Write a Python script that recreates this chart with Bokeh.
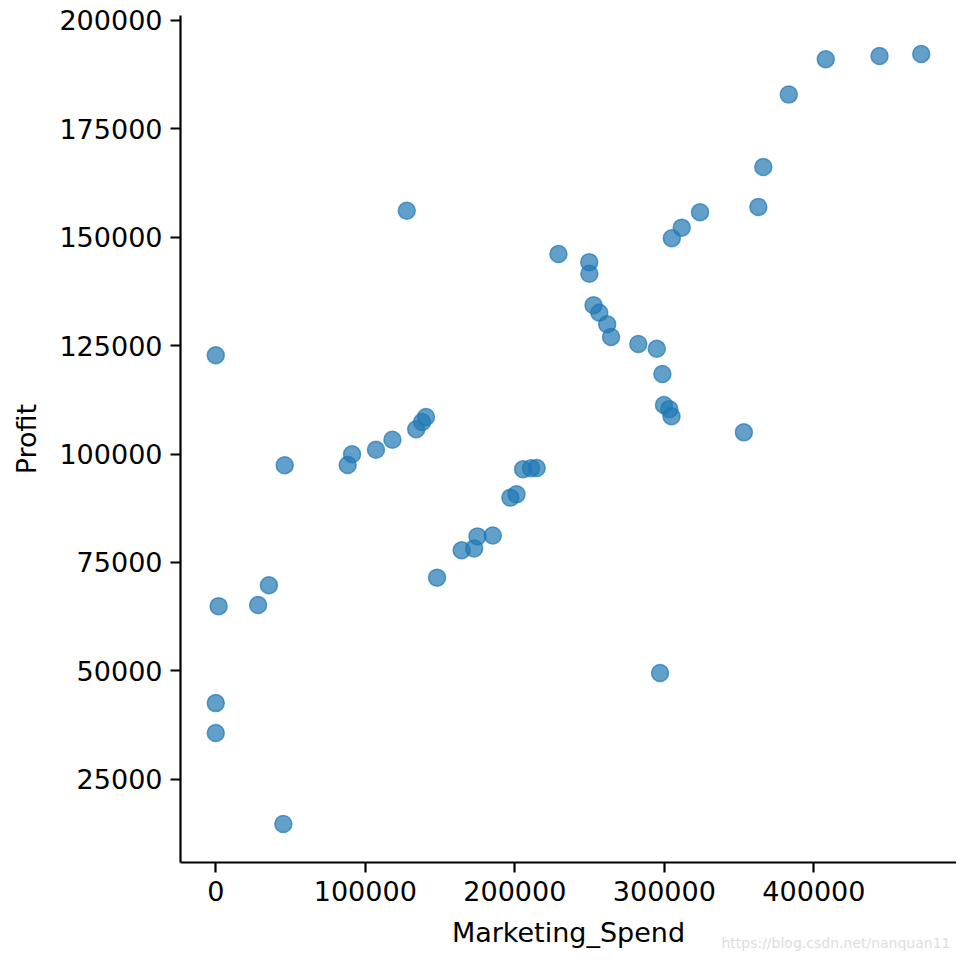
from bokeh.plotting import figure
from bokeh.models import FixedTicker, NumeralTickFormatter, Range1d, Label, ColumnDataSource
from bokeh.embed import file_html
from bokeh.resources import INLINE

marketing_spend = [471784.1, 443898.53, 407934.54, 383199.62, 366168.42, 362861.36, 127716.82,
                   323876.68, 311613.29, 304981.62, 229160.95, 249744.55, 249839.44, 252664.93,
                   256512.92, 261776.23, 264346.06, 282574.31, 294919.57, 0.0, 298664.47,
                   299737.29, 303319.26, 304768.73, 140574.81, 137962.62, 134050.07, 353183.81,
                   118148.2, 107138.38, 91131.24, 88218.23, 46085.25, 214634.81, 210797.67,
                   205517.64, 201126.82, 197029.42, 185265.1, 174999.3, 172795.67, 164470.71,
                   148001.11, 35534.17, 28334.72, 1903.93, 297114.46, 0.0, 0.0, 45173.06]
profit = [192261.83, 191792.06, 191050.39, 182901.99, 166187.94, 156991.12, 156122.51,
          155752.6, 152211.77, 149759.96, 146121.95, 144259.4, 141585.52, 134307.35,
          132602.65, 129917.04, 126992.93, 125370.37, 124266.9, 122776.86, 118474.03,
          111313.02, 110352.25, 108733.99, 108552.04, 107404.34, 105733.54, 105008.31,
          103282.38, 101004.64, 99937.59, 97483.56, 97427.84, 96778.92, 96712.8,
          96479.51, 90708.19, 89949.14, 81229.06, 81005.76, 78239.91, 77798.83,
          71498.49, 69758.98, 65200.33, 64926.08, 49490.75, 42559.73, 35673.41, 14681.4]
x_ticks = [0, 100000, 200000, 300000, 400000]
y_ticks = [25000, 50000, 75000, 100000, 125000, 150000, 175000, 200000]

xmin, xmax = min(marketing_spend), max(marketing_spend)
ymin, ymax = min(profit), max(profit)
xm = (xmax - xmin) * 0.05
ym = (ymax - ymin) * 0.05

p = figure(frame_width=776, frame_height=847, output_backend="svg", toolbar_location=None,
           x_range=Range1d(xmin - xm, xmax + xm), y_range=Range1d(ymin - ym, ymax + ym),
           min_border_left=180, min_border_right=0, min_border_top=15, min_border_bottom=0)

src = ColumnDataSource(dict(x=marketing_spend, y=profit))
p.scatter("x", "y", source=src, size=17, fill_color="#1f77b4", fill_alpha=0.7,
          line_color="#1f77b4", line_alpha=0.7, line_width=1.5)

p.outline_line_color = None
p.grid.visible = False
font = "DejaVu Sans"
for ax in (p.xaxis, p.yaxis):
    ax.axis_line_width = 2.2
    ax.axis_line_color = "black"
    ax.major_tick_line_width = 2.2
    ax.major_tick_out = 10
    ax.major_tick_in = 0
    ax.minor_tick_line_color = None
    ax.major_label_text_font = font
    ax.major_label_text_font_size = "27px"
    ax.major_label_text_color = "black"
    ax.axis_label_text_font = font
    ax.axis_label_text_font_size = "27px"
    ax.axis_label_text_font_style = "normal"
    ax.axis_label_text_color = "black"
    ax.major_label_standoff = 8
    ax.formatter = NumeralTickFormatter(format="0")

p.xaxis.ticker = FixedTicker(ticks=x_ticks)
p.yaxis.ticker = FixedTicker(ticks=y_ticks)
p.xaxis.axis_label = "Marketing_Spend"
p.yaxis.axis_label = "Profit"
p.xaxis.axis_label_standoff = 13
p.yaxis.axis_label_standoff = 14

wm = Label(x=770, y=24, x_units="screen", y_units="screen",
           text="https://blog.csdn.net/nanquan11", text_font=font,
           text_font_size="14px", text_color="#dddddd", text_align="right",
           text_baseline="middle")
p.add_layout(wm, "below")

open("out.html", "w").write(file_html(p, INLINE))
